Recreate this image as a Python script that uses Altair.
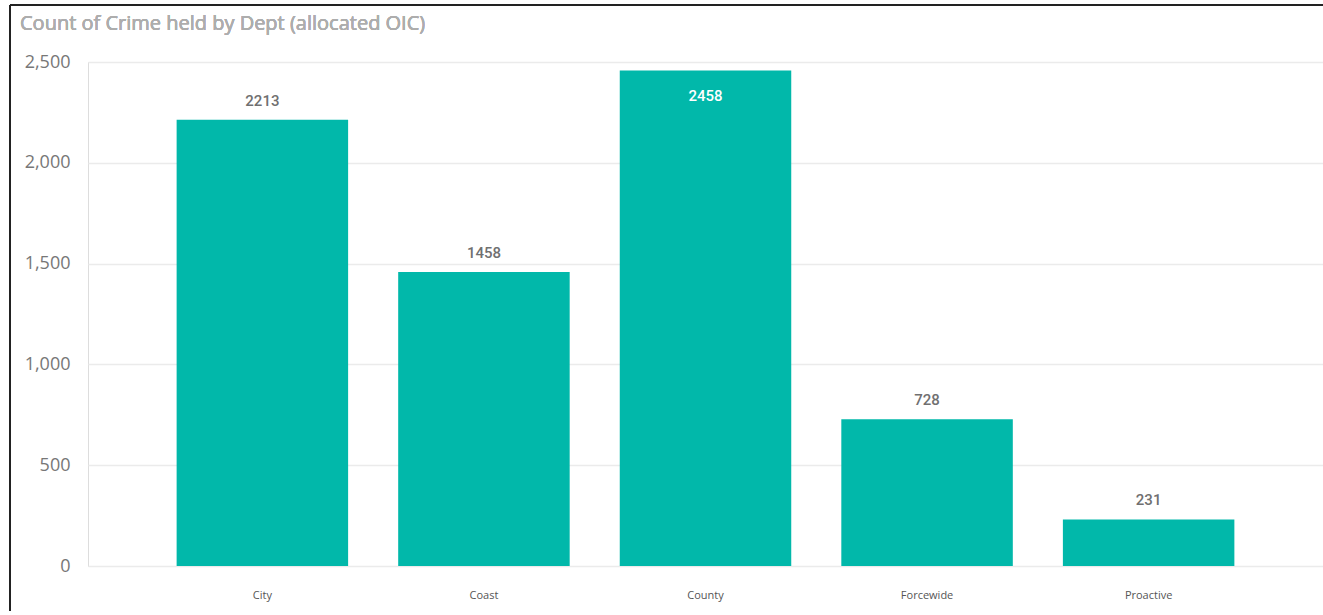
import altair as alt
import pandas as pd

depts = ["City", "Coast", "County", "Forcewide", "Proactive"]
counts = [2213, 1458, 2458, 728, 231]
y_ticks = [0, 500, 1000, 1500, 2000, 2500]

df = pd.DataFrame({"Dept": depts, "Count": counts})

base = alt.Chart(df)

x_enc = alt.X(
    "Dept:N",
    sort=depts,
    title=None,
    scale=alt.Scale(paddingInner=0.226, paddingOuter=0.4),
    axis=alt.Axis(
        labelAngle=0, labelFontSize=11, labelColor="#555555", labelFont="Open Sans",
        labelPadding=23, domain=False, ticks=False, grid=False,
    ),
)
y_enc = alt.Y(
    "Count:Q",
    title=None,
    scale=alt.Scale(domain=[0, 2500], nice=False),
    axis=alt.Axis(
        values=y_ticks, format=",d", labelFontSize=18, labelColor="#777777",
        labelFont="Open Sans", labelFontWeight="normal", labelPadding=18,
        domain=False, ticks=False, gridColor="#ebebeb", gridWidth=1.5,
    ),
)

bars = base.mark_bar(color="#01B8AA").encode(x=x_enc, y=y_enc)

labels_out = base.transform_filter("datum.Count <= 2400").mark_text(
    dy=-14, baseline="alphabetic", fontSize=15, font="Roboto", fontWeight=500,
    color="#707070",
).encode(x=alt.X("Dept:N", sort=depts), y="Count:Q", text="Count:Q")

labels_in = base.transform_filter("datum.Count > 2400").mark_text(
    dy=31, baseline="alphabetic", fontSize=15, font="Roboto", fontWeight=500,
    color="white",
).encode(x=alt.X("Dept:N", sort=depts), y="Count:Q", text="Count:Q")

title = alt.Chart(df).mark_text(
    text="Count of Crime held by Dept (allocated OIC)", align="left",
    baseline="alphabetic", fontSize=20, font="Open Sans", fontWeight=400,
    color="#adadad",
).encode(x=alt.value(-68), y=alt.value(-32))

frame_left = alt.Chart(df).mark_rule(color="#222222", strokeWidth=2).encode(
    x=alt.value(-78), y=alt.value(-57), y2=alt.value(560)
)
frame_top = alt.Chart(df).mark_rule(color="#222222", strokeWidth=2).encode(
    x=alt.value(-78), x2=alt.value(1240), y=alt.value(-57)
)

chart = alt.layer(bars, labels_out, labels_in, title, frame_left, frame_top).properties(
    width=1235, height=504,
    autosize=alt.AutoSizeParams(type="none"),
    padding={"left": 88, "top": 62, "right": 0, "bottom": 45},
).configure_view(stroke=None).configure(background="white")

chart.save("out.html", embed_options={"renderer": "svg", "actions": False})
